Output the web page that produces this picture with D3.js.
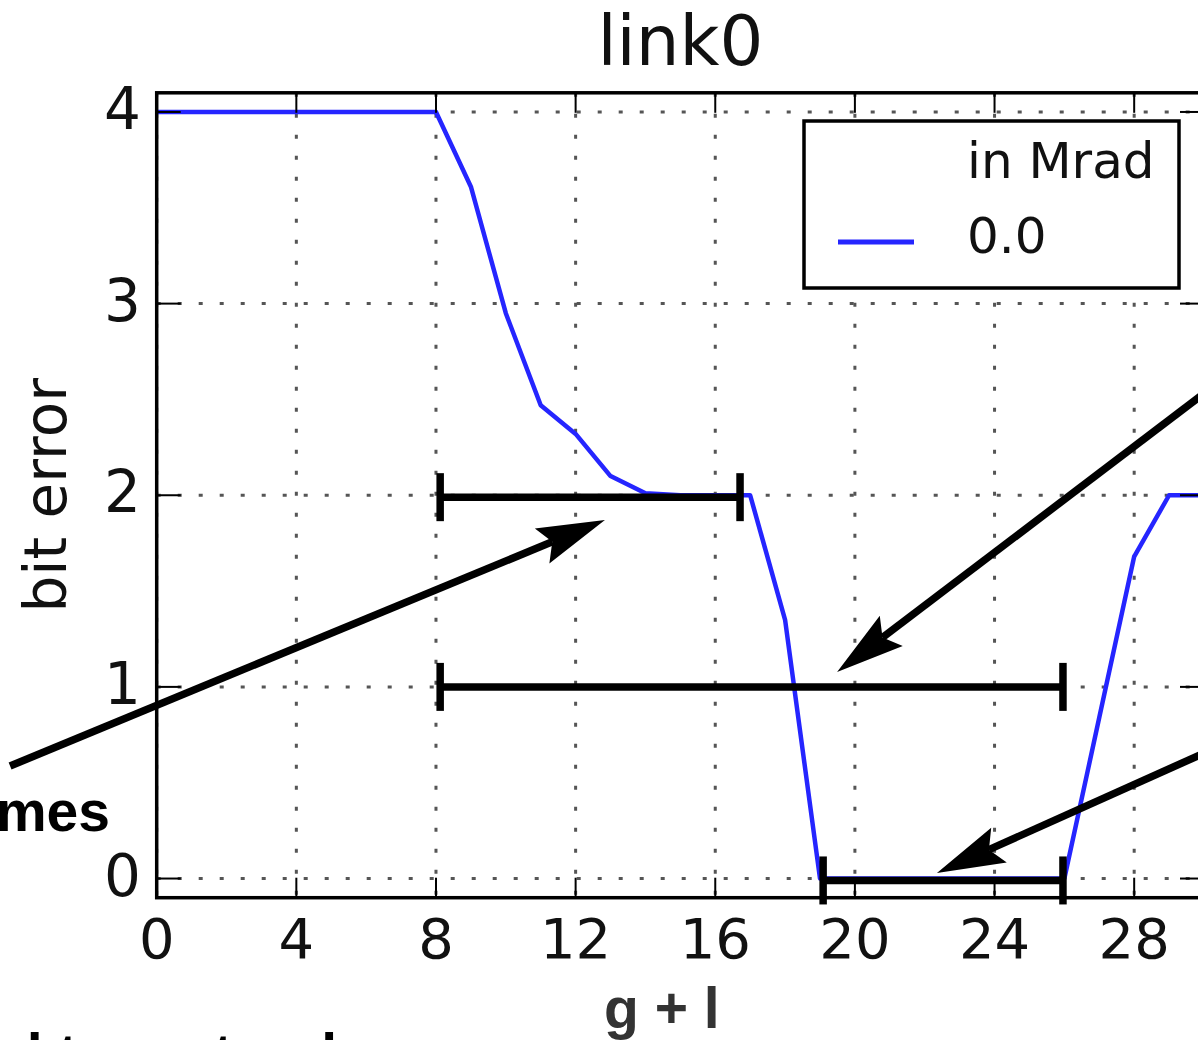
<!DOCTYPE html>
<html>
<head>
<meta charset="utf-8">
<script src="https://cdn.jsdelivr.net/npm/d3@7"></script>
<style>
  html, body { margin: 0; padding: 0; background: #fff; overflow: hidden; }
  svg { display: block; }
</style>
</head>
<body>
<svg id="chart" width="1198" height="1040"></svg>
<script>
// ---- data ----
const title = "link0";
const xLabel = "g + l";
const yLabel = "bit error";
const legendTitle = "in Mrad";
const seriesName = "0.0";
const gl = [0,1,2,3,4,5,6,7,8,9,10,11,12,13,14,15,16,17,18,19,20,21,22,23,24,25,26,27,28,29,30];
const bitError = [4,4,4,4,4,4,4,4,4,3.61,2.95,2.47,2.32,2.1,2.01,2,2,2,1.35,0,0,0,0,0,0,0,0,0.84,1.68,2,2];
const xTicks = [0,4,8,12,16,20,24,28];
const yTicks = [0,1,2,3,4];
// annotation overlay (in data units)
const brackets = [
  {x0: 8.12, x1: 16.71, y: 1.99},
  {x0: 8.12, x1: 25.96, y: 1.0},
  {x0: 19.09, x1: 25.96, y: -0.01}
];
const arrows = [
  {x0: -4.2, y0: 0.587, x1: 12.84, y1: 1.871},
  {x0: 32.75, y0: 2.911, x1: 19.49, y1: 1.078},
  {x0: 32.75, y0: 0.879, x1: 22.35, y1: 0.029}
];
const sideText = "mes";
const bottomText = "ed to rest or l";

// ---- layout ----
const svg = d3.select("#chart");
const x = d3.scaleLinear().domain([0, 30]).range([156.7, 156.7 + 30 * 34.91]);
const y = d3.scaleLinear().domain([-0.1, 4.1]).range([897.7, 92.8]);
const [X0, X1] = x.range();
const [Y0, Y1] = y.range(); // Y0 bottom, Y1 top

const dejavu = "'DejaVu Sans', 'Bitstream Vera Sans', sans-serif";
const arial = "'Liberation Sans', Arial, Helvetica, sans-serif";

svg.append("defs").append("clipPath").attr("id", "plotclip")
  .append("rect").attr("x", X0).attr("y", Y1).attr("width", X1 - X0).attr("height", Y0 - Y1);

// grid
const grid = svg.append("g").attr("stroke", "#555").attr("stroke-width", 3)
  .attr("stroke-dasharray", "4,17").attr("fill", "none");
grid.selectAll("line.h").data(yTicks).join("line").attr("class", "h")
  .attr("x1", X0).attr("x2", X1).attr("y1", d => y(d)).attr("y2", d => y(d));
grid.selectAll("line.v").data(xTicks).join("line").attr("class", "v")
  .attr("y1", Y1).attr("y2", Y0).attr("x1", d => x(d)).attr("x2", d => x(d));

// data line
const line = d3.line().x((d, i) => x(gl[i])).y(d => y(d));
svg.append("path").datum(bitError)
  .attr("clip-path", "url(#plotclip)")
  .attr("d", line).attr("fill", "none")
  .attr("stroke", "#2525ff").attr("stroke-width", 4.5).attr("stroke-linejoin", "round");

// ticks (inward, all sides)
const ticks = svg.append("g").attr("stroke", "#000").attr("stroke-width", 2);
ticks.selectAll("line.l").data(yTicks).join("line")
  .attr("x1", X0).attr("x2", X0 + 24).attr("y1", d => y(d)).attr("y2", d => y(d));
ticks.selectAll("line.r").data(yTicks).join("line")
  .attr("x1", X1).attr("x2", X1 - 24).attr("y1", d => y(d)).attr("y2", d => y(d));
ticks.selectAll("line.b").data(xTicks).join("line")
  .attr("y1", Y0).attr("y2", Y0 - 20).attr("x1", d => x(d)).attr("x2", d => x(d));
ticks.selectAll("line.t").data(xTicks).join("line")
  .attr("y1", Y1).attr("y2", Y1 + 20).attr("x1", d => x(d)).attr("x2", d => x(d));

// spines
svg.append("rect").attr("x", X0).attr("y", Y1).attr("width", X1 - X0).attr("height", Y0 - Y1)
  .attr("fill", "none").attr("stroke", "#000").attr("stroke-width", 3.5);

// tick labels
svg.append("g").selectAll("text").data(xTicks).join("text")
  .attr("x", d => x(d)).attr("y", 958).attr("text-anchor", "middle")
  .attr("font-family", dejavu).attr("font-size", 56).attr("fill", "#111")
  .text(d => d);
svg.append("g").selectAll("text").data(yTicks).join("text")
  .attr("x", 141).attr("y", d => y(d) + 17).attr("text-anchor", "end")
  .attr("font-family", dejavu).attr("font-size", 58).attr("fill", "#111")
  .text(d => d);

// title
svg.append("text").attr("x", (X0 + X1) / 2).attr("y", 65).attr("text-anchor", "middle")
  .attr("font-family", dejavu).attr("font-size", 69).attr("fill", "#111").text(title);

// y label
svg.append("text").attr("transform", `translate(66,${(Y0 + Y1) / 2}) rotate(-90)`)
  .attr("text-anchor", "middle").attr("font-family", dejavu).attr("font-size", 58)
  .attr("fill", "#111").text(yLabel);

// x label
svg.append("text").attr("x", 604).attr("y", 1028).attr("font-family", arial)
  .attr("font-weight", "bold").attr("font-size", 57).attr("fill", "#333").text(xLabel);

// legend
const lg = svg.append("g");
lg.append("rect").attr("x", 804).attr("y", 121).attr("width", 375).attr("height", 167)
  .attr("fill", "#fff").attr("stroke", "#000").attr("stroke-width", 3.5);
lg.append("text").attr("x", 967).attr("y", 178).attr("font-family", dejavu)
  .attr("font-size", 50).attr("fill", "#111").text(legendTitle);
lg.append("line").attr("x1", 838).attr("x2", 914).attr("y1", 242).attr("y2", 242)
  .attr("stroke", "#2525ff").attr("stroke-width", 5);
lg.append("text").attr("x", 967).attr("y", 253).attr("font-family", dejavu)
  .attr("font-size", 50).attr("fill", "#111").text(seriesName);

// annotation brackets
const ann = svg.append("g").attr("stroke", "#000").attr("stroke-width", 7.5).attr("fill", "none");
brackets.forEach(b => {
  ann.append("line").attr("x1", x(b.x0)).attr("x2", x(b.x1)).attr("y1", y(b.y)).attr("y2", y(b.y));
  [b.x0, b.x1].forEach(xv => {
    ann.append("line").attr("x1", x(xv)).attr("x2", x(xv))
      .attr("y1", y(b.y) - 24).attr("y2", y(b.y) + 24);
  });
});

// annotation arrows
const L = 68, W = 19, N = 11;
arrows.forEach(a => {
  const tx = x(a.x0), ty = y(a.y0), hx = x(a.x1), hy = y(a.y1);
  const len = Math.hypot(hx - tx, hy - ty);
  const ux = (hx - tx) / len, uy = (hy - ty) / len;
  const nx = -uy, ny = ux;
  const bx = hx - ux * L, by = hy - uy * L;
  const notchX = hx - ux * (L - N), notchY = hy - uy * (L - N);
  svg.append("line").attr("x1", tx).attr("y1", ty).attr("x2", notchX).attr("y2", notchY)
    .attr("stroke", "#000").attr("stroke-width", 7.5);
  svg.append("path")
    .attr("d", `M${hx},${hy} L${bx + nx * W},${by + ny * W} L${notchX},${notchY} L${bx - nx * W},${by - ny * W} Z`)
    .attr("fill", "#000");
});

// overlay texts
svg.append("text").attr("x", 110).attr("y", 831).attr("text-anchor", "end")
  .attr("font-family", arial).attr("font-weight", "bold").attr("font-size", 57)
  .attr("fill", "#000").text(sideText);
svg.append("text").attr("x", -24).attr("y", 1074)
  .attr("font-family", arial).attr("font-weight", "bold").attr("font-size", 57)
  .attr("fill", "#000").text(bottomText);
</script>
</body>
</html>
